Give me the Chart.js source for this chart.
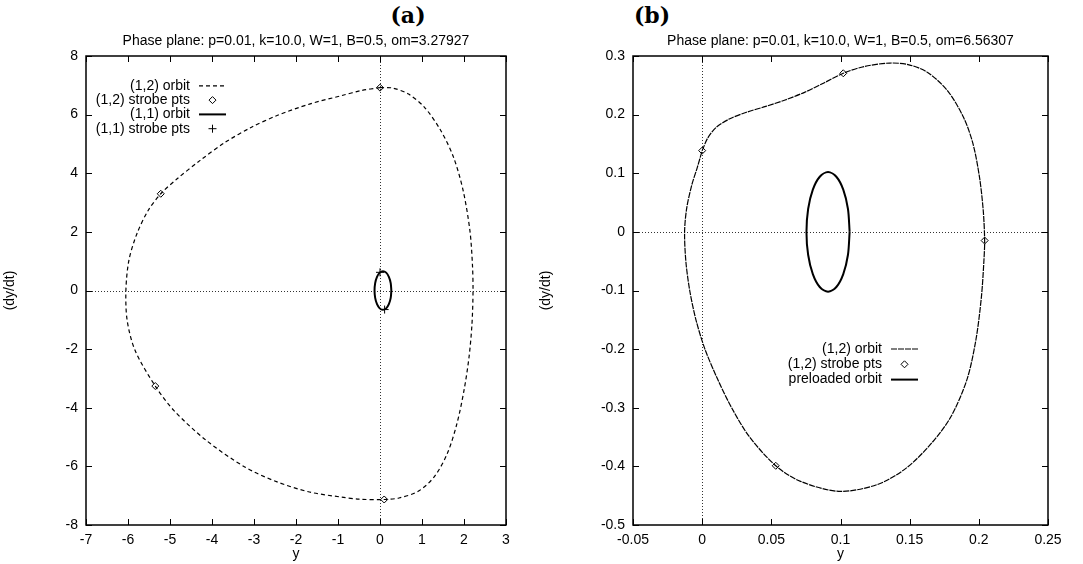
<!DOCTYPE html>
<html>
<head>
<meta charset="utf-8">
<title>Phase plane</title>
<script src="https://cdn.jsdelivr.net/npm/chart.js@4/dist/chart.umd.min.js"></script>
<style>
  body { margin: 0; background: #fff; }
  #wrap { position: relative; width: 1083px; height: 564px; overflow: hidden; }
  .tag { position: absolute; top: 0; font: bold 22px "DejaVu Serif", "Liberation Serif", serif; color: #000; transform: translateX(-50%); line-height: 30px; }
  canvas { position: absolute; top: 0; }
</style>
</head>
<body>
<div id="wrap">
  <div class="tag" style="left:408px">(a)</div>
  <div class="tag" style="left:652px">(b)</div>
  <canvas id="chartA" width="541" height="564" style="left:0"></canvas>
  <canvas id="chartB" width="547" height="564" style="left:536px"></canvas>
</div>
<script>
// ---- panel (a) data ----
const orbitA12x = [0, 0.29, 0.68, 1.06, 1.45, 1.75, 1.98, 2.14, 2.2, 2.215, 2.19, 2.12, 2.0, 1.83, 1.6, 1.29, 0.91, 0.45, 0.1, -0.5, -0.91, -1.68, -2.45, -3.22, -4.14, -4.91, -5.35, -5.83, -6.02, -6.05, -5.98, -5.79, -5.52, -5.22, -4.83, -4.29, -3.68, -3.06, -2.45, -1.68, -0.91, -0.45, 0];
const orbitA12y = [6.92, 6.91, 6.70, 6.25, 5.45, 4.55, 3.41, 2.05, 0.91, 0, -1.14, -2.27, -3.41, -4.55, -5.57, -6.36, -6.85, -7.08, -7.13, -7.12, -7.05, -6.875, -6.53, -6.02, -5.11, -4.09, -3.26, -2.05, -1.02, 0, 1.02, 1.93, 2.73, 3.30, 3.81, 4.43, 5.06, 5.57, 5.97, 6.36, 6.65, 6.82, 6.92];
const strobeA12x = [0, -5.22, -5.35, 0.1];
const strobeA12y = [6.92, 3.30, -3.26, -7.13];
const orbitA11x = [0.27, 0.255, 0.211, 0.147, 0.07, -0.007, -0.071, -0.115, -0.13, -0.115, -0.071, -0.007, 0.07, 0.147, 0.211, 0.255, 0.27];
const orbitA11y = [0, 0.253, 0.467, 0.61, 0.66, 0.61, 0.467, 0.253, 0, -0.253, -0.467, -0.61, -0.66, -0.61, -0.467, -0.253, 0];
const strobeA11x = [0, 0.11];
const strobeA11y = [0.62, -0.65];
const xRangeA = [-7, 3, 1];   // min, max, step
const yRangeA = [-8, 8, 2];

// ---- panel (b) data ----
const orbitB12x = [0, 0.004, 0.01, 0.02, 0.032, 0.046, 0.06, 0.074, 0.088, 0.102, 0.117, 0.1356, 0.1495, 0.163, 0.1773, 0.189, 0.1958, 0.2005, 0.2032, 0.2042, 0.2037, 0.2019, 0.1979, 0.1914, 0.1799, 0.166, 0.1475, 0.1266, 0.0988, 0.0711, 0.0532, 0.034, 0.0213, 0.0113, 0.002, -0.0045, -0.009, -0.0118, -0.0127, -0.0112, -0.0075, -0.0035, 0];
const orbitB12y = [0.1386, 0.16, 0.178, 0.193, 0.204, 0.214, 0.225, 0.238, 0.254, 0.2705, 0.282, 0.288, 0.285, 0.272, 0.241, 0.195, 0.15, 0.093, 0.036, -0.0148, -0.048, -0.11, -0.184, -0.252, -0.315, -0.36, -0.403, -0.431, -0.4426, -0.4256, -0.399, -0.349, -0.3, -0.252, -0.2, -0.15, -0.1, -0.05, 0, 0.04, 0.08, 0.11, 0.1386];
const strobeB12x = [0, 0.102, 0.2042, 0.0532];
const strobeB12y = [0.1386, 0.2705, -0.0148, -0.399];
const preloadBx = [0.1066, 0.1054, 0.102, 0.097, 0.091, 0.085, 0.080, 0.0766, 0.0754, 0.0766, 0.080, 0.085, 0.091, 0.097, 0.102, 0.1054, 0.1066];
const preloadBy = [0, 0.039, 0.072, 0.094, 0.102, 0.094, 0.072, 0.039, 0, -0.039, -0.072, -0.094, -0.102, -0.094, -0.072, -0.039, 0];
const xRangeB = [-0.05, 0.25, 0.05];
const yRangeB = [-0.5, 0.3, 0.1];

Chart.defaults.font.family = '"Liberation Sans", Arial, Helvetica, sans-serif';
Chart.defaults.font.size = 14;
Chart.defaults.color = '#000';

function pairs(xs, ys) {
    return xs.map((v, i) => ({ x: v, y: ys[i] }));
}

function lineSet(label, xs, ys, width, dash) {
    return {
        label: label,
        data: pairs(xs, ys),
        showLine: true,
        borderColor: "#000",
        borderWidth: width,
        borderDash: dash,
        pointRadius: 0,
        tension: 0.3,
        fill: false,
    };
}

function pointSet(label, xs, ys, style, radius) {
    return {
        label: label,
        data: pairs(xs, ys),
        showLine: false,
        pointStyle: style,
        pointRadius: radius,
        borderColor: "#000",
        backgroundColor: "rgba(0,0,0,0)",
        borderWidth: 1,
    };
}

// gnuplot look: dotted zero axes, full frame with inward ticks, key with text on the left
const gnuplotFrame = {
    id: "gnuplotFrame",
    beforeDatasetsDraw(chart) {
        const { ctx, chartArea: a, scales } = chart;
        const x0 = Math.round(scales.x.getPixelForValue(0)) + 0.5;
        const y0 = Math.round(scales.y.getPixelForValue(0)) + 0.5;
        ctx.save();
        ctx.strokeStyle = "#333";
        ctx.lineWidth = 1;
        ctx.setLineDash([1, 2]);
        ctx.beginPath();
        ctx.moveTo(x0, a.top);
        ctx.lineTo(x0, a.bottom);
        ctx.moveTo(a.left, y0);
        ctx.lineTo(a.right, y0);
        ctx.stroke();
        ctx.restore();
    },
    afterDraw(chart, args, opts) {
        const { ctx, chartArea: a, scales } = chart;
        ctx.save();
        ctx.strokeStyle = "#000";
        ctx.lineWidth = 1.5;
        ctx.strokeRect(a.left, a.top, a.right - a.left, a.bottom - a.top);

        ctx.lineWidth = 1;
        ctx.beginPath();
        scales.x.ticks.forEach((t) => {
            const px = Math.round(scales.x.getPixelForValue(t.value)) + 0.5;
            ctx.moveTo(px, a.bottom);
            ctx.lineTo(px, a.bottom - 6);
            ctx.moveTo(px, a.top);
            ctx.lineTo(px, a.top + 6);
        });
        scales.y.ticks.forEach((t) => {
            const py = Math.round(scales.y.getPixelForValue(t.value)) + 0.5;
            ctx.moveTo(a.left, py);
            ctx.lineTo(a.left + 6, py);
            ctx.moveTo(a.right, py);
            ctx.lineTo(a.right - 6, py);
        });
        ctx.stroke();

        // key
        ctx.font = '14px "Liberation Sans", Arial, sans-serif';
        ctx.fillStyle = "#000";
        ctx.textAlign = "right";
        ctx.textBaseline = "middle";
        chart.data.datasets.forEach((ds, i) => {
            const ty = opts.top + i * opts.gap;
            const sx = opts.right + 9;
            const ex = sx + 27;
            const cx = (sx + ex) / 2;
            ctx.fillText(ds.label, opts.right, ty);
            ctx.beginPath();
            if (ds.showLine) {
                ctx.lineWidth = ds.borderWidth;
                ctx.setLineDash(ds.borderDash || []);
                ctx.moveTo(sx, ty);
                ctx.lineTo(ex, ty);
            } else if (ds.pointStyle === "rectRot") {
                ctx.lineWidth = 1;
                ctx.setLineDash([]);
                const r = ds.pointRadius;
                ctx.moveTo(cx, ty - r);
                ctx.lineTo(cx + r, ty);
                ctx.lineTo(cx, ty + r);
                ctx.lineTo(cx - r, ty);
                ctx.closePath();
            } else {
                ctx.lineWidth = 1;
                ctx.setLineDash([]);
                const r = ds.pointRadius;
                ctx.moveTo(cx - r, ty);
                ctx.lineTo(cx + r, ty);
                ctx.moveTo(cx, ty - r);
                ctx.lineTo(cx, ty + r);
            }
            ctx.stroke();
        });
        ctx.restore();
    },
};

function makeChart(id, datasets, xRange, yRange, titleText, key, fit) {
    const ctx = document.getElementById(id).getContext("2d");
    return new Chart(ctx, {
        type: "scatter",
        data: { datasets: datasets },
        options: {
            responsive: false,
            animation: false,
            events: [],
            layout: { padding: { top: 0, left: 0, right: fit.right, bottom: 0 } },
            scales: {
                x: {
                    type: "linear",
                    min: xRange[0],
                    max: xRange[1],
                    afterFit: (scale) => { scale.height = 39; },
                    ticks: {
                        stepSize: xRange[2],
                        padding: 7,
                        maxRotation: 0,
                        callback: (v) => String(+v.toFixed(2)),
                    },
                    grid: { display: true, drawOnChartArea: false, drawTicks: false },
                    border: { display: false },
                    title: { display: true, text: "y", padding: { top: 0, bottom: 1 } },
                },
                y: {
                    type: "linear",
                    min: yRange[0],
                    max: yRange[1],
                    afterFit: (scale) => { scale.width = fit.left; },
                    ticks: {
                        stepSize: yRange[2],
                        padding: 8,
                        callback: (v) => String(+v.toFixed(2)),
                    },
                    grid: { display: true, drawOnChartArea: false, drawTicks: false },
                    border: { display: false },
                    title: { display: true, text: "(dy/dt)", padding: { top: 2, bottom: 0 } },
                },
            },
            plugins: {
                legend: { display: false },
                tooltip: { enabled: false },
                title: {
                    display: true,
                    text: titleText,
                    fullSize: false,
                    font: { size: 14, weight: "normal" },
                    padding: { top: 32.6, bottom: 6.6 },
                },
                gnuplotFrame: key,
            },
        },
        plugins: [gnuplotFrame],
    });
}

makeChart("chartA", [
    lineSet("(1,2) orbit", orbitA12x, orbitA12y, 1.2, [4, 3]),
    pointSet("(1,2) strobe pts", strobeA12x, strobeA12y, "rectRot", 3.5),
    lineSet("(1,1) orbit", orbitA11x, orbitA11y, 2, []),
    pointSet("(1,1) strobe pts", strobeA11x, strobeA11y, "cross", 4),
], xRangeA, yRangeA, "Phase plane: p=0.01, k=10.0, W=1, B=0.5, om=3.27927",
   { right: 190, top: 85.8, gap: 14.3 }, { left: 86, right: 35 });

makeChart("chartB", [
    lineSet("(1,2) orbit", orbitB12x, orbitB12y, 1.2, [6, 1]),
    pointSet("(1,2) strobe pts", strobeB12x, strobeB12y, "rectRot", 3.5),
    lineSet("preloaded orbit", preloadBx, preloadBy, 2, []),
], xRangeB, yRangeB, "Phase plane: p=0.01, k=10.0, W=1, B=0.5, om=6.56307",
   { right: 346, top: 349, gap: 15.3 }, { left: 97, right: 35 });
</script>
</body>
</html>
